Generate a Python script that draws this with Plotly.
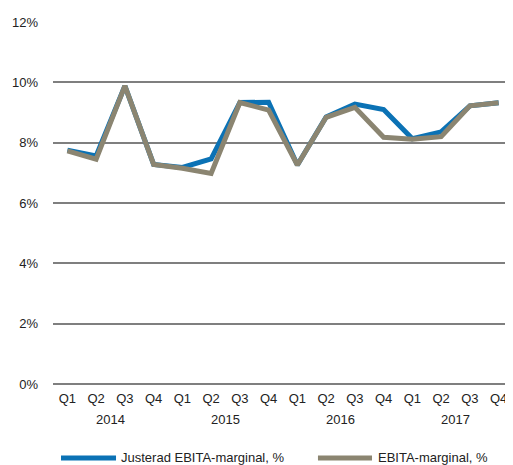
import plotly.graph_objects as go

quarters = ["Q1", "Q2", "Q3", "Q4"] * 4
years = ["2014", "2015", "2016", "2017"]

justerad = [7.75, 7.56, 9.88, 7.28, 7.18, 7.46, 9.33, 9.34,
            7.26, 8.85, 9.28, 9.10, 8.13, 8.36, 9.22, 9.32]
ebita = [7.73, 7.45, 9.88, 7.28, 7.15, 6.98, 9.33, 9.08,
         7.26, 8.84, 9.17, 8.18, 8.11, 8.20, 9.22, 9.32]

y_ticks = [0, 2, 4, 6, 8, 10, 12]
y_labels = [f"{v}%" for v in y_ticks]

names = ["Justerad EBITA-marginal, %", "EBITA-marginal, %"]
colors = ["#0B72B5", "#8B8571"]

FONT = "Liberation Sans Narrow, Arial Narrow, Liberation Sans, Arial, sans-serif"

x_idx = list(range(len(quarters)))

fig = go.Figure()
for vals, name, col in zip([justerad, ebita], names, colors):
    fig.add_trace(go.Scatter(
        x=x_idx, y=vals, mode="lines", name=name,
        line=dict(color=col, width=5), showlegend=False,
    ))

# year group labels under the quarter ticks
for i, yr in enumerate(years):
    fig.add_annotation(x=i * 4 + 1.5, xref="x", y=-0.0994, yref="paper",
                       text=yr, showarrow=False, yanchor="middle",
                       font=dict(family=FONT, size=13, color="#222222"))

# manual legend (long line keys as in the reference)
legend_pos = [(0.0174, 0.137, 0.1435), (0.576, 0.6935, 0.702)]
for (x0, x1, xt), name, col in zip(legend_pos, names, colors):
    fig.add_shape(type="line", xref="paper", yref="paper",
                  x0=x0, x1=x1, y0=-0.2044, y1=-0.2044,
                  line=dict(color=col, width=5))
    fig.add_annotation(x=xt, xref="paper", y=-0.2044, yref="paper",
                       text=name, showarrow=False, xanchor="left",
                       yanchor="middle",
                       font=dict(family=FONT, size=13, color="#222222"))

fig.update_layout(
    width=505, height=457,
    margin=dict(l=45, r=0, t=14, b=81),
    paper_bgcolor="white", plot_bgcolor="white",
    font=dict(family=FONT, size=13, color="#222222"),
    showlegend=False,
    xaxis=dict(range=[-0.5, 15.5], tickvals=x_idx, ticktext=quarters,
               showgrid=False, showline=False, zeroline=False, ticks="",
               ticklabelstandoff=5, tickfont=dict(size=13)),
    yaxis=dict(range=[0, 12], tickvals=y_ticks, ticktext=y_labels,
               showgrid=True, gridcolor="#7F7F7F", gridwidth=1.5,
               zeroline=True, zerolinecolor="#7F7F7F", zerolinewidth=1.5,
               showline=False, ticks="", ticklabelstandoff=14,
               tickfont=dict(size=13)),
)

fig.write_html("out.html")
